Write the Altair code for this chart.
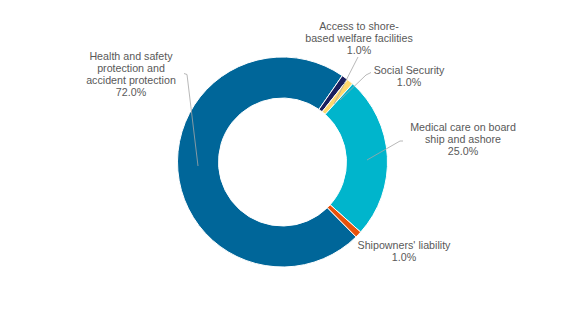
import math
import altair as alt
import pandas as pd

categories = [
    "Health and safety protection and accident protection",
    "Access to shore-based welfare facilities",
    "Social Security",
    "Medical care on board ship and ashore",
    "Shipowners' liability",
]
values = [72.0, 1.0, 1.0, 25.0, 1.0]
colors = ["#006699", "#1B1F5E", "#FFD86E", "#00B5CC", "#E8520C"]
label_lines = [
    ["Health and safety", "protection and", "accident protection", "72.0%"],
    ["Access to shore-", "based welfare facilities", "1.0%"],
    ["Social Security", "1.0%"],
    ["Medical care on board", "ship and ashore", "25.0%"],
    ["Shipowners' liability", "1.0%"],
]

# layout (pixels)
CX, CY = 282.5, 162
R_IN, R_OUT = 64, 105
START = math.radians(135.5)
label_pos = [(131, 56.5), (359, 27), (409, 70.5), (463, 128), (404, 246)]
LINE_H = 12.2
leaders = [
    [(184, 73.5), (187, 74.5), (198, 166)],
    [(358, 57), (334, 104)],
    [(371, 72.5), (366, 75), (340, 100)],
    [(403, 141), (400, 141), (367, 160)],
]

df = pd.DataFrame({"category": categories, "value": values, "order": list(range(len(values)))})

arc = alt.Chart(df).mark_arc(
    innerRadius=R_IN, outerRadius=R_OUT, stroke="white", strokeWidth=1
).encode(
    theta=alt.Theta("value:Q", stack=True,
                    scale=alt.Scale(domain=[0, 100], range=[START, START + 2 * math.pi])),
    color=alt.Color("category:N", scale=alt.Scale(domain=categories, range=colors), legend=None),
    order=alt.Order("order:Q"),
    x=alt.value(CX),
    y=alt.value(CY),
)

layers = [arc]

for pts in leaders:
    for (x1, y1), (x2, y2) in zip(pts[:-1], pts[1:]):
        layers.append(
            alt.Chart(pd.DataFrame({"a": [0]})).mark_rule(color="#A6A6A6", strokeWidth=0.8).encode(
                x=alt.value(x1), y=alt.value(y1), x2=alt.value(x2), y2=alt.value(y2)
            )
        )

for lines, (lx, ly) in zip(label_lines, label_pos):
    for i, t in enumerate(lines):
        layers.append(
            alt.Chart(pd.DataFrame({"t": [t]})).mark_text(
                font="Liberation Sans", fontSize=10.7, color="#595959",
                align="center", baseline="middle"
            ).encode(
                text="t:N", x=alt.value(lx), y=alt.value(ly + i * LINE_H)
            )
        )

chart = alt.layer(*layers).properties(
    width=576, height=322, autosize=alt.AutoSizeParams(type="none"), padding=0,
    background="white"
).configure_view(stroke=None)

chart.save("out.html", embed_options={"renderer": "svg", "actions": False})
